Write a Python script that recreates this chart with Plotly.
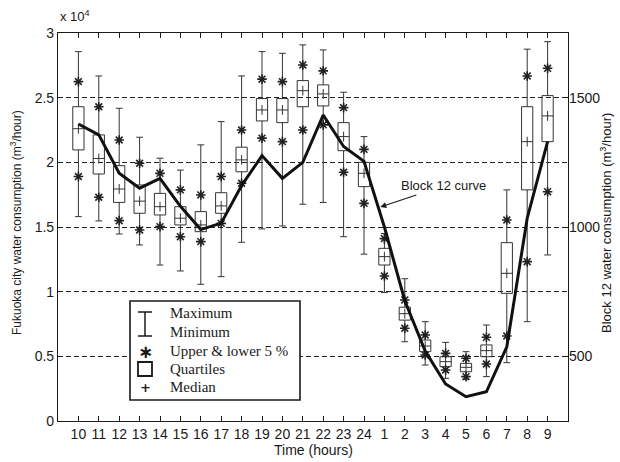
import plotly.graph_objects as go

hours = ["10", "11", "12", "13", "14", "15", "16", "17", "18", "19", "20", "21",
         "22", "23", "24", "1", "2", "3", "4", "5", "6", "7", "8", "9"]

# Fukuoka city water consumption (m3/hour)
v_max = [28560, 26680, 24180, 21940, 20320, 19400, 21350, 23150, 26680, 28560, 28430, 29080,
         28690, 25420, 21990, 14500, 11000, 7680, 6080, 5360, 7420, 17870, 28750, 29330]
v_p95 = [26240, 24300, 21730, 19930, 19150, 17870, 17480, 18900, 22500, 26430, 26240, 27530,
         27070, 24230, 21000, 14100, 9360, 6650, 5230, 4850, 6470, 15540, 26680, 27270]
v_q3 = [24300, 22120, 19740, 18250, 17600, 16570, 16190, 17650, 21170, 24930, 24930, 26320,
        25990, 23070, 20000, 13350, 8800, 6260, 4970, 4460, 5880, 13790, 24300, 25160]
v_med = [22600, 20300, 17940, 17000, 16570, 15680, 15160, 16630, 20190, 24050, 24050, 25540,
         25290, 21990, 19150, 12710, 8300, 5800, 4590, 4150, 5440, 11420, 21600, 23590]
v_q1 = [20960, 19100, 16900, 16060, 15930, 15160, 14640, 16060, 19270, 23200, 23070, 24300,
        24360, 20900, 18120, 12060, 7800, 5360, 4200, 3810, 4970, 9870, 17870, 21600]
v_p05 = [18900, 17300, 15490, 14770, 15030, 14250, 13870, 15280, 18380, 21870, 21600, 22500,
         22900, 19230, 16830, 11210, 7170, 5100, 3940, 3430, 4410, 6570, 12320, 17730]
v_min = [15800, 15470, 14460, 13610, 12060, 11600, 10570, 11160, 13820, 14850, 15080, 16760,
         16900, 14250, 12900, 9930, 6130, 4330, 3300, 3220, 3430, 4510, 7680, 12840]

# Block 12 water consumption (m3/hour)
block12 = [1398, 1356, 1208, 1150, 1188, 1080, 990, 1015, 1160, 1276, 1188, 1250,
           1433, 1311, 1254, 1000, 715, 520, 393, 344, 363, 537, 1034, 1330]

left_ticks = [0, 5000, 10000, 15000, 20000, 25000, 30000]
left_ticktext = ["0", "0.5", "1", "1.5", "2", "2.5", "3"]
right_ticks = [500, 1000, 1500]

xpos = list(range(len(hours)))
INK = "#1a1a1a"
SANS = "Liberation Sans, Arial, sans-serif"
SERIF = "Liberation Serif, Times New Roman, serif"

fig = go.Figure()

fig.add_trace(go.Box(
    x=xpos, q1=v_q1, median=v_med, q3=v_q3, lowerfence=v_min, upperfence=v_max,
    width=0.55, whiskerwidth=0.6, fillcolor="rgba(255,255,255,0)",
    line=dict(color="#333333", width=1), boxpoints=False, showlegend=False,
    hoverinfo="skip"))

fig.add_trace(go.Scatter(
    x=xpos, y=v_med, mode="markers", showlegend=False, hoverinfo="skip",
    marker=dict(symbol="line-ns", size=7, color="#333333",
                line=dict(color="#333333", width=1))))

fig.add_trace(go.Scatter(
    x=xpos + xpos, y=v_p95 + v_p05, mode="markers", showlegend=False, hoverinfo="skip",
    marker=dict(symbol="asterisk-open", size=8, color="#222222",
                line=dict(color="#222222", width=1.6))))

fig.add_trace(go.Scatter(
    x=xpos, y=block12, yaxis="y2", mode="lines", showlegend=False, hoverinfo="skip",
    line=dict(color="#111111", width=3)))

fig.update_layout(
    width=620, height=462,
    margin=dict(l=58, r=52, t=33, b=41),
    paper_bgcolor="white", plot_bgcolor="white",
    font=dict(family=SANS, size=14, color=INK),
    xaxis=dict(range=[-1, 24], tickvals=xpos, ticktext=hours, tickangle=0,
               showgrid=False, zeroline=False, showline=True, linecolor=INK, linewidth=1.2,
               mirror="ticks", ticks="inside", ticklen=5, tickcolor=INK,
               tickfont=dict(size=14, family=SANS)),
    yaxis=dict(range=[0, 30000], tickvals=left_ticks, ticktext=left_ticktext,
               showgrid=True, gridcolor="#222222", gridwidth=1, griddash="5px,3px",
               zeroline=False, showline=True, linecolor=INK, linewidth=1.2, mirror=True,
               ticks="inside", ticklen=5, tickcolor=INK, tickfont=dict(size=14, family=SANS)),
    yaxis2=dict(range=[250, 1750], tickvals=right_ticks, overlaying="y", side="right",
                showgrid=False, zeroline=False, showline=False,
                ticks="inside", ticklen=5, tickcolor=INK, tickfont=dict(size=14, family=SANS)),
)

# legend (drawn as a box in paper coordinates)
def px_x(px):
    return (px - 58) / 510.0

def px_y(py):
    return (421 - py) / 388.0

shapes = [
    dict(type="rect", xref="paper", yref="paper", x0=px_x(130), x1=px_x(300),
         y0=px_y(400), y1=px_y(301), line=dict(color=INK, width=1.6), fillcolor="white",
         layer="above"),
    dict(type="line", xref="paper", yref="paper", x0=px_x(145), x1=px_x(145),
         y0=px_y(312), y1=px_y(336), line=dict(color=INK, width=1.5)),
    dict(type="line", xref="paper", yref="paper", x0=px_x(138), x1=px_x(152),
         y0=px_y(312), y1=px_y(312), line=dict(color=INK, width=1.5)),
    dict(type="line", xref="paper", yref="paper", x0=px_x(138), x1=px_x(152),
         y0=px_y(336), y1=px_y(336), line=dict(color=INK, width=1.5)),
    dict(type="rect", xref="paper", yref="paper", x0=px_x(138), x1=px_x(152),
         y0=px_y(376), y1=px_y(362), line=dict(color=INK, width=1.8)),
]
fig.update_layout(shapes=shapes)

legend_items = [("Maximum", 313), ("Minimum", 332), ("Upper &amp; lower 5 %", 351),
                ("Quartiles", 369), ("Median", 387)]
annotations = []
for txt, py in legend_items:
    annotations.append(dict(xref="paper", yref="paper", x=px_x(168), y=px_y(py),
                            xanchor="left", yanchor="middle", showarrow=False, text=txt,
                            font=dict(family=SERIF, size=15, color=INK)))
annotations.append(dict(xref="paper", yref="paper", x=px_x(145), y=px_y(351),
                        xanchor="center", yanchor="middle", showarrow=False, text="<b>∗</b>",
                        font=dict(family="DejaVu Sans", size=18, color=INK)))
annotations.append(dict(xref="paper", yref="paper", x=px_x(145), y=px_y(387),
                        xanchor="center", yanchor="middle", showarrow=False, text="<b>+</b>",
                        font=dict(family="DejaVu Sans", size=13, color=INK)))

# axis titles and scale note
annotations += [
    dict(xref="paper", yref="paper", x=0.5, y=px_y(450), xanchor="center", yanchor="middle",
         showarrow=False, text="Time (hours)", font=dict(size=14, family=SANS)),
    dict(xref="paper", yref="paper", x=px_x(16), y=px_y(223), xanchor="center",
         yanchor="middle", showarrow=False, textangle=-90,
         text="Fukuoka city water consumption (m<sup>3</sup>/hour)",
         font=dict(size=12, family=SANS)),
    dict(xref="paper", yref="paper", x=px_x(606), y=px_y(223), xanchor="center",
         yanchor="middle", showarrow=False, textangle=-90,
         text="Block 12 water consumption (m<sup>3</sup>/hour)",
         font=dict(size=13, family=SANS)),
    dict(xref="paper", yref="paper", x=px_x(58), y=px_y(16), xanchor="left",
         yanchor="middle", showarrow=False, text="x 10<sup>4</sup>",
         font=dict(size=13, family=SANS)),
    dict(x=14.8, y=16550, xref="x", yref="y", text="Block 12 curve", showarrow=True,
         arrowhead=2, arrowsize=1, arrowwidth=1.2, arrowcolor=INK, ax=63, ay=-21,
         font=dict(size=13, family=SANS)),
]
fig.update_layout(annotations=annotations)

fig.write_html("out.html")
